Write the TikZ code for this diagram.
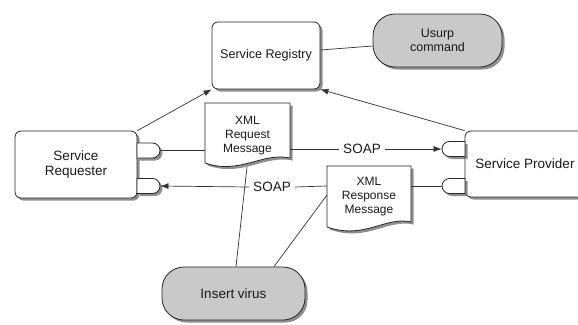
\documentclass[tikz,border=0pt]{standalone}
\usepackage{fontspec}
\setmainfont{Liberation Sans}
\usetikzlibrary{shadows,arrows.meta,shapes.misc}

\begin{document}
\begin{tikzpicture}[x=1pt,y=-1pt,
  shade/.style={drop shadow={shadow xshift=2.5pt,shadow yshift=-2.5pt,fill=black!55,opacity=0.8}},
  box/.style={draw=black!85, line width=0.8pt, fill=white, rounded corners=6pt, shade,
              inner sep=0pt, align=center, text=black!90},
  pill/.style={draw=black!85, line width=0.8pt, fill=black!21, rounded corners=22pt, shade,
               inner sep=0pt, align=center, text=black!90},
  portbase/.style={draw=black!85, line width=0.8pt, fill=white, rounded rectangle,
                   minimum width=23pt, minimum height=15pt, inner sep=0pt, shade},
  lport/.style={portbase, rounded rectangle left arc=none, rounded rectangle right arc=convex},
  rport/.style={portbase, rounded rectangle left arc=convex, rounded rectangle right arc=none},
  docshape/.style={draw=black!85, line width=0.8pt, fill=white, shade},
  doctext/.style={inner sep=0pt, align=center, text=black!90,
                  font=\fontsize{12}{14}\selectfont},
  soap/.style={inner sep=4pt, text=black!90, font=\fontsize{13.5}{15}\selectfont},
  wire/.style={draw=black!80, line width=0.7pt},
  arr/.style={wire, -{Latex[length=8pt,width=6pt]}},
]
\useasboundingbox (0,0) rectangle (578,324);
\clip (0,0) rectangle (578,324);

% registry and the attacker command
\node[box, minimum width=108pt, minimum height=67pt, font=\fontsize{12.6}{15}\selectfont]
  (reg) at (266,55.5) {Service Registry};
\node[pill, minimum width=129pt, minimum height=53pt, font=\fontsize{12.5}{14.5}\selectfont]
  (usurp) at (437.5,40.5) {Usurp\\command};

% requester with its two ports
\node[box, minimum width=122pt, minimum height=67pt, font=\fontsize{13.5}{14.5}\selectfont]
  (req) at (76,164.5) {Service\\Requester};
\node[lport] (reqout) at (148.5,150.5) {};
\node[lport] (reqin) at (148.5,186) {};

% provider with its two ports
\node[box, minimum width=120pt, minimum height=66pt, font=\fontsize{13.5}{15}\selectfont]
  (prov) at (525,164) {Service Provider};
\node[rport] (provin) at (453.5,149) {};
\node[rport] (provout) at (453.5,186) {};

% XML request document
\path[docshape] (205,103) -- (290,103) -- (290,158)
  .. controls (262,152) and (240,175) .. (205,163) -- cycle;
\node[doctext, minimum width=85pt, minimum height=52pt] (reqmsg) at (247.5,136) {XML\\Request\\Message};
\coordinate (reqmsgbot) at (247,167);

% XML response document
\path[docshape] (327,166) -- (411,166) -- (411,222)
  .. controls (385,216) and (365,240) .. (327,227) -- cycle;
\node[doctext, minimum width=84pt, minimum height=52pt] (respmsg) at (369,197) {XML\\Response\\Message};
\coordinate (respmsgleft) at (327,195);

% virus injection
\node[pill, minimum width=143pt, minimum height=53pt, font=\fontsize{13.5}{15}\selectfont]
  (virus) at (233.5,293.5) {Insert virus};

% SOAP labels
\node[soap] (soapreq) at (362,149) {SOAP};
\node[soap] (soapresp) at (272,187) {SOAP};

% connectors
\draw[arr] (req.north east) -- (reg.south west);
\draw[arr] (prov.north west) -- (reg.south east);
\draw[wire] ([yshift=5.5pt]reg.east) -- ([yshift=-5.5pt]usurp.west);

\draw[wire] (reqout.east) -- (reqmsg.west |- reqout.east);
\draw[wire] (reqmsg.east |- provin.west) -- (soapreq.west);
\draw[arr] (soapreq.east) -- (provin.west);

\draw[wire] (provout.west) -- (respmsg.east |- provout.west);
\draw[wire] (respmsg.west |- provout.west) -- (soapresp.east);
\draw[arr] (soapresp.west) -- (reqin.east);

\draw[wire] (reqmsgbot) -- ([xshift=2.5pt]virus.north);
\draw[wire] (respmsgleft) -- ([xshift=40.5pt]virus.north);
\end{tikzpicture}
\end{document}
